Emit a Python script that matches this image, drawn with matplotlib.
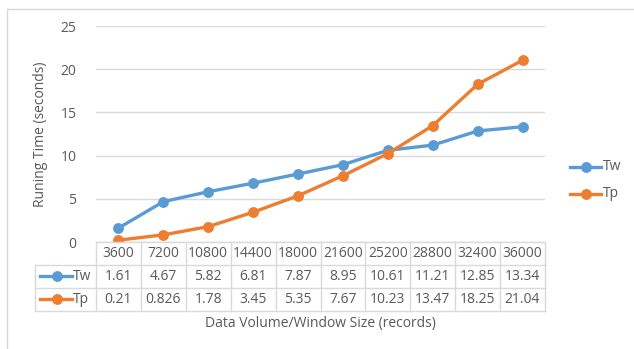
import matplotlib
matplotlib.use("Agg")
import matplotlib.pyplot as plt
from matplotlib.lines import Line2D
from matplotlib.patches import Rectangle

categories = ["3600", "7200", "10800", "14400", "18000", "21600", "25200", "28800", "32400", "36000"]
tw = [1.61, 4.67, 5.82, 6.81, 7.87, 8.95, 10.61, 11.21, 12.85, 13.34]
tp = [0.21, 0.826, 1.78, 3.45, 5.35, 7.67, 10.23, 13.47, 18.25, 21.04]
yticks = [0, 5, 10, 15, 20, 25]

BLUE = "#5B9BD5"
ORANGE = "#ED7D31"
TXT = "#595959"
GRID = "#D9D9D9"

plt.rcParams['font.family'] = ['Open Sans', 'DejaVu Sans']
FS = 10
LW = 2.4
MS = 6.8

W, H = 634, 349
fig = plt.figure(figsize=(W / 100, H / 100), dpi=100)

def fx(px):
    return px / W

def fy(py):
    return 1 - py / H

# outer border
fig.add_artist(Rectangle((fx(7), fy(360)), fx(640) - fx(7), fy(9) - fy(360),
                         transform=fig.transFigure, fill=False, edgecolor=GRID, lw=1))

L, R, T, B = 96, 545, 26, 242
ax = fig.add_axes([fx(L), fy(B), fx(R) - fx(L), fy(T) - fy(B)])
x = list(range(len(categories)))
ax.plot(x, tw, color=BLUE, lw=LW, marker='o', ms=MS, solid_capstyle='round', zorder=3)
ax.plot(x, tp, color=ORANGE, lw=LW, marker='o', ms=MS, solid_capstyle='round', zorder=3)
ax.set_xlim(-0.5, len(categories) - 0.5)
ax.set_ylim(0, 25)
ax.set_yticks(yticks)
ax.set_yticklabels([str(v) for v in yticks], color=TXT, fontsize=FS)
ax.tick_params(axis='y', length=0, pad=14)
ax.set_xticks([])
for s in ax.spines.values():
    s.set_visible(False)
ax.grid(axis='y', color=GRID, lw=1)
ax.set_axisbelow(True)
ax.set_ylabel("Runing Time (seconds)", color=TXT, fontsize=FS, labelpad=9)

# data table
colw = (R - L) / len(categories)
rows = [242, 264.5, 287.5, 311]
legL = 35
for i, yy in enumerate(rows):
    x0 = L if i == 0 else legL
    fig.add_artist(Line2D([fx(x0), fx(R)], [fy(yy), fy(yy)], color=GRID, lw=1))
for i in range(len(categories) + 1):
    xx = L + i * colw
    fig.add_artist(Line2D([fx(xx), fx(xx)], [fy(rows[0]), fy(rows[3])], color=GRID, lw=1))
fig.add_artist(Line2D([fx(legL), fx(legL)], [fy(rows[1]), fy(rows[3])], color=GRID, lw=1))

for i, c in enumerate(categories):
    cx = L + (i + 0.5) * colw
    fig.text(fx(cx), fy((rows[0] + rows[1]) / 2), c, ha='center', va='center', color=TXT, fontsize=FS)
    fig.text(fx(cx), fy((rows[1] + rows[2]) / 2), f"{tw[i]:g}", ha='center', va='center', color=TXT, fontsize=FS)
    fig.text(fx(cx), fy((rows[2] + rows[3]) / 2), f"{tp[i]:g}", ha='center', va='center', color=TXT, fontsize=FS)

for name, col, r in [("Tw", BLUE, 1), ("Tp", ORANGE, 2)]:
    yy = fy((rows[r] + rows[r + 1]) / 2)
    fig.add_artist(Line2D([fx(40), fx(72)], [yy, yy], color=col, lw=LW))
    fig.add_artist(Line2D([fx(57)], [yy], color=col, marker='o', ms=MS, lw=0))
    fig.text(fx(73), yy, name, ha='left', va='center', color=TXT, fontsize=FS)

fig.text(fx(320), fy(324), "Data Volume/Window Size (records)", ha='center', va='center',
         color=TXT, fontsize=FS)

# legend
for name, col, yp in [("Tw", BLUE, 166.5), ("Tp", ORANGE, 193.5)]:
    yy = fy(yp)
    fig.add_artist(Line2D([fx(570), fx(601)], [yy, yy], color=col, lw=LW))
    fig.add_artist(Line2D([fx(585.5)], [yy], color=col, marker='o', ms=MS, lw=0))
    fig.text(fx(603), yy, name, ha='left', va='center', color=TXT, fontsize=FS)

fig.savefig("out.png", dpi=100)
